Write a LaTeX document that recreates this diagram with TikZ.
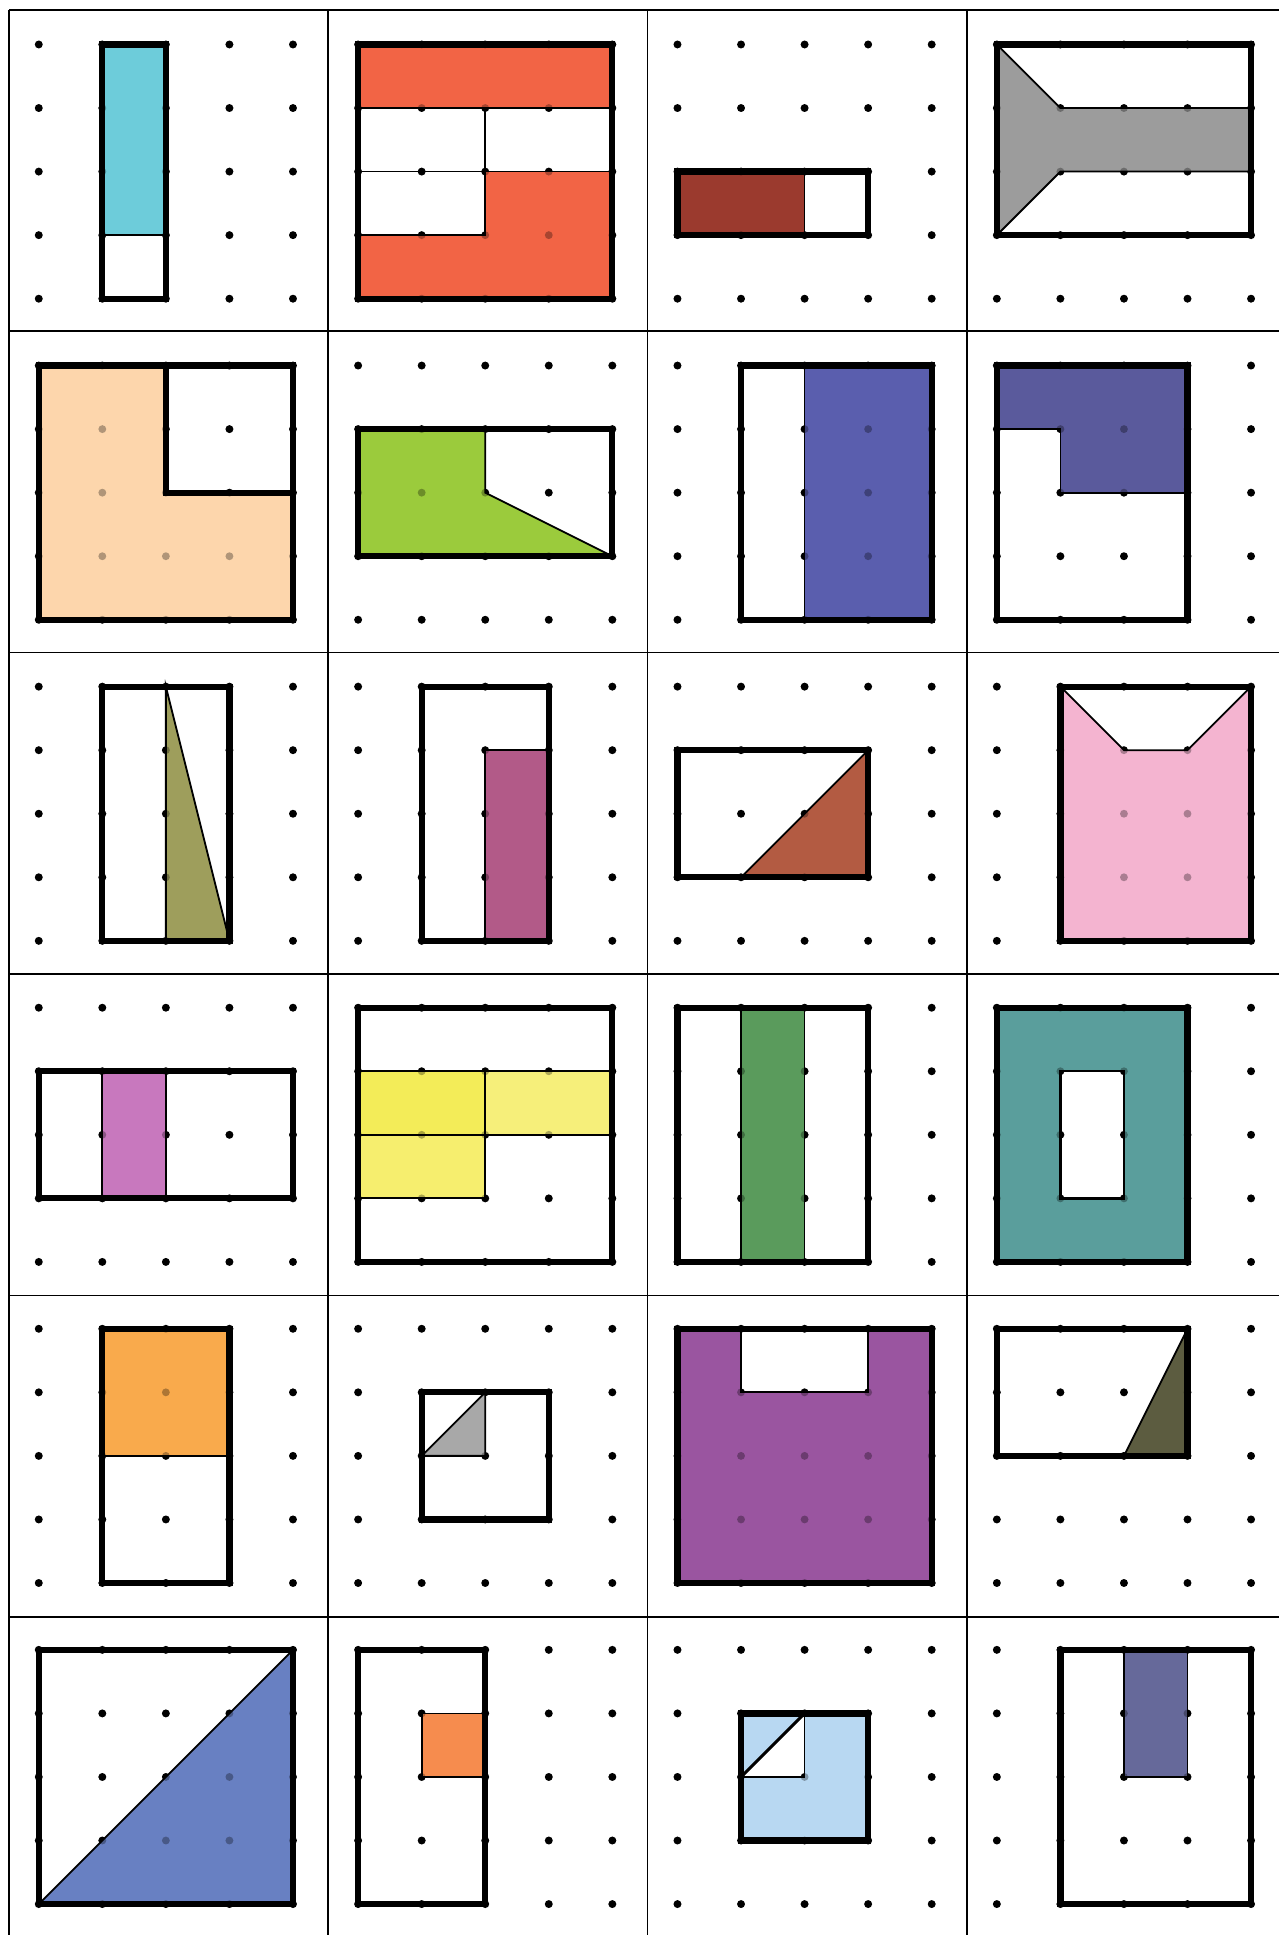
\documentclass[tikz,border=0pt]{standalone}
\usepackage{tikz}
\definecolor{cyanfill}{RGB}{109,204,218}
\definecolor{tomatofill}{RGB}{242,100,69}
\definecolor{brickfill}{RGB}{155,58,46}
\definecolor{greyfill}{RGB}{156,156,156}
\definecolor{peachfill}{RGB}{253,214,172}
\definecolor{limefill}{RGB}{155,203,60}
\definecolor{bluefill}{RGB}{90,94,174}
\definecolor{navyfill}{RGB}{90,90,156}
\definecolor{olivefill}{RGB}{158,158,92}
\definecolor{rosefill}{RGB}{178,90,136}
\definecolor{siennafill}{RGB}{179,91,66}
\definecolor{pinkfill}{RGB}{244,180,208}
\definecolor{orchidfill}{RGB}{200,120,190}
\definecolor{yellowA}{RGB}{243,236,88}
\definecolor{yellowB}{RGB}{246,239,122}
\definecolor{yellowC}{RGB}{246,238,110}
\definecolor{greenfill}{RGB}{90,155,92}
\definecolor{tealfill}{RGB}{90,158,156}
\definecolor{orangefill}{RGB}{249,170,76}
\definecolor{silverfill}{RGB}{168,168,168}
\definecolor{purplefill}{RGB}{154,85,160}
\definecolor{mossfill}{RGB}{92,92,64}
\definecolor{cornfill}{RGB}{104,128,194}
\definecolor{coralfill}{RGB}{246,140,78}
\definecolor{skyfill}{RGB}{184,216,242}
\definecolor{slatefill}{RGB}{102,105,154}
\tikzset{
  cell/.style 2 args={shift={({0.61+#2*5.025},{-0.70-#1*5.052})},yscale=-1},
  shp/.style={line width=2.8pt,line join=miter},
  sep/.style={line width=0.8pt},
  frame/.style={line width=0.7pt},
  dotc/.style={fill=black},
}
% 5x5 dot grid of one cell
\newcommand{\griddots}[1]{%
  \foreach \i in {0,...,4}{\foreach \j in {0,...,4}{\fill[#1] (\i,\j) circle (0.062);}}}
% one tile: row, column, fills, lines
\newcommand{\tile}[4]{%
  \begin{scope}[cell={#1}{#2}]
    \griddots{dotc}
    #3
    \griddots{dotc,opacity=.3}
    #4
  \end{scope}}

\begin{document}
\begin{tikzpicture}
  \useasboundingbox (0,0) rectangle (20.117,-30.447);
  % table lines
  \foreach \c in {0,...,3}
    \draw[frame] ({0.14+\c*5.025},-0.155) -- ({0.14+\c*5.025},-30.447);
  \foreach \r in {0,...,5}
    \draw[frame] (0.14,{-0.155-\r*5.057}) -- (20.117,{-0.155-\r*5.057});

  % row 1
  \tile{0}{0}{\fill[cyanfill] (1,0) rectangle (2,3);}
    {\draw[sep] (1,3) -- (2,3); \draw[shp] (1,0) rectangle (2,4);}
  \tile{0}{1}{\fill[tomatofill] (0,0) rectangle (4,1) (0,3) rectangle (4,4) (2,2) rectangle (4,3);}
    {\draw[sep] (0,1) rectangle (2,2) (2,1) rectangle (4,2) (0,2) rectangle (2,3);
     \draw[shp] (0,0) rectangle (4,4);}
  \tile{0}{2}{\fill[brickfill] (0,2) rectangle (2,3);}
    {\draw[sep] (2,2) -- (2,3); \draw[shp] (0,2) rectangle (3,3);}
  \tile{0}{3}{\fill[greyfill] (0,0) -- (1,1) -- (4,1) -- (4,2) -- (1,2) -- (0,3) -- cycle;}
    {\draw[sep] (0,0) -- (1,1) -- (4,1) (4,2) -- (1,2) -- (0,3);
     \draw[shp] (0,0) rectangle (4,3);}

  % row 2
  \tile{1}{0}{\fill[peachfill] (0,0) -- (2,0) -- (2,2) -- (4,2) -- (4,4) -- (0,4) -- cycle;}
    {\draw[shp] (0,0) rectangle (4,4) (2,0) -- (2,2) -- (4,2);}
  \tile{1}{1}{\fill[limefill] (0,1) -- (2,1) -- (2,2) -- (4,3) -- (0,3) -- cycle;}
    {\draw[sep] (2,1) -- (2,2) -- (4,3); \draw[shp] (0,1) rectangle (4,3);}
  \tile{1}{2}{\fill[bluefill] (2,0) rectangle (4,4);}
    {\draw[sep] (2,0) -- (2,4); \draw[shp] (1,0) rectangle (4,4);}
  \tile{1}{3}{\fill[navyfill] (0,0) -- (3,0) -- (3,2) -- (1,2) -- (1,1) -- (0,1) -- cycle;}
    {\draw[sep] (0,1) -- (1,1) -- (1,2) -- (3,2); \draw[shp] (0,0) rectangle (3,4);}

  % row 3
  \tile{2}{0}{\fill[olivefill] (2,0) -- (3,4) -- (2,4) -- cycle;}
    {\draw[sep] (2,4) -- (2,0) -- (3,4); \draw[shp] (1,0) rectangle (3,4);}
  \tile{2}{1}{\fill[rosefill] (2,1) rectangle (3,4);}
    {\draw[sep] (2,4) -- (2,1) -- (3,1); \draw[shp] (1,0) rectangle (3,4);}
  \tile{2}{2}{\fill[siennafill] (1,3) -- (3,1) -- (3,3) -- cycle;}
    {\draw[sep] (1,3) -- (3,1); \draw[shp] (0,1) rectangle (3,3);}
  \tile{2}{3}{\fill[pinkfill] (1,0) -- (2,1) -- (3,1) -- (4,0) -- (4,4) -- (1,4) -- cycle;}
    {\draw[sep] (1,0) -- (2,1) -- (3,1) -- (4,0); \draw[shp] (1,0) rectangle (4,4);}

  % row 4
  \tile{3}{0}{\fill[orchidfill] (1,1) rectangle (2,3);}
    {\draw[sep] (1,1) -- (1,3) (2,1) -- (2,3); \draw[shp] (0,1) rectangle (4,3);}
  \tile{3}{1}{\fill[yellowA] (0,1) rectangle (2,2); \fill[yellowB] (2,1) rectangle (4,2);
     \fill[yellowC] (0,2) rectangle (2,3);}
    {\draw[sep] (0,1) -- (4,1) (0,2) -- (4,2) (2,1) -- (2,3) (0,3) -- (2,3);
     \draw[shp] (0,0) rectangle (4,4);}
  \tile{3}{2}{\fill[greenfill] (1,0) rectangle (2,4);}
    {\draw[sep] (1,0) -- (1,4) (2,0) -- (2,4); \draw[shp] (0,0) rectangle (3,4);}
  \tile{3}{3}{\fill[tealfill,even odd rule] (0,0) rectangle (3,4) (1,1) rectangle (2,3);}
    {\draw[sep,line width=1.1pt] (1,1) rectangle (2,3); \draw[shp] (0,0) rectangle (3,4);}

  % row 5
  \tile{4}{0}{\fill[orangefill] (1,0) rectangle (3,2);}
    {\draw[sep] (1,2) -- (3,2); \draw[shp] (1,0) rectangle (3,4);}
  \tile{4}{1}{\fill[silverfill] (1,2) -- (2,1) -- (2,2) -- cycle;}
    {\draw[sep] (1,2) -- (2,1) -- (2,2) -- cycle; \draw[shp] (1,1) rectangle (3,3);}
  \tile{4}{2}{\fill[purplefill,even odd rule] (0,0) rectangle (4,4) (1,0) rectangle (3,1);}
    {\draw[sep] (1,0) rectangle (3,1); \draw[shp] (0,0) rectangle (4,4);}
  \tile{4}{3}{\fill[mossfill] (2,2) -- (3,0) -- (3,2) -- cycle;}
    {\draw[sep] (2,2) -- (3,0); \draw[shp] (0,0) rectangle (3,2);}

  % row 6
  \tile{5}{0}{\fill[cornfill] (0,4) -- (4,0) -- (4,4) -- cycle;}
    {\draw[sep] (0,4) -- (4,0); \draw[shp] (0,0) rectangle (4,4);}
  \tile{5}{1}{\fill[coralfill] (1,1) rectangle (2,2);}
    {\draw[sep] (1,1) rectangle (2,2); \draw[shp] (0,0) rectangle (2,4);}
  \tile{5}{2}{\fill[skyfill,even odd rule] (1,1) rectangle (3,3) (1,2) -- (2,1) -- (2,2) -- cycle;}
    {\draw[sep] (2,1) -- (2,2) -- (1,2); \draw[sep,line width=1.3pt] (1,2) -- (2,1);
     \draw[shp] (1,1) rectangle (3,3);}
  \tile{5}{3}{\fill[slatefill] (2,0) rectangle (3,2);}
    {\draw[sep] (2,0) rectangle (3,2); \draw[shp] (1,0) rectangle (4,4);}
\end{tikzpicture}
\end{document}
